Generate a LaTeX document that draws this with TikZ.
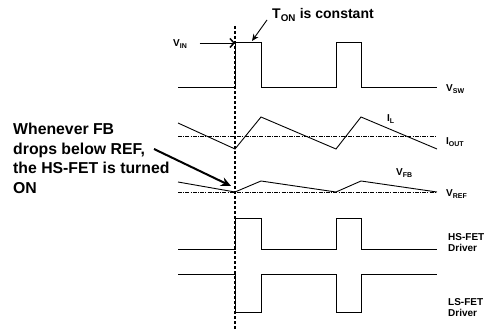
\documentclass[tikz,border=0pt]{standalone}
\usepackage{fontspec}
\setmainfont{Liberation Sans}
\usetikzlibrary{arrows.meta}
\begin{document}
\begin{tikzpicture}[x=1pt,y=-1pt,
  wave/.style={line width=0.9pt, line join=miter},
  refline/.style={line width=0.9pt, dash pattern=on 4pt off 1.2pt on 1pt off 1.2pt},
  marker/.style={line width=1.1pt, dash pattern=on 3pt off 2pt},
  lbl/.style={font=\bfseries\fontsize{10}{11}\selectfont, anchor=west, inner sep=0pt, align=left},
  note/.style={font=\bfseries\fontsize{15.8}{19.5}\selectfont, anchor=north west, inner sep=0pt, align=left},
  vinarr/.style={line width=0.9pt, -{Straight Barb[length=4pt,width=9pt,line width=1.5pt]}},
  tonarr/.style={line width=0.9pt, -{Stealth[length=7pt,width=6pt]}},
  fbarr/.style={line width=2pt, -{Stealth[length=10pt,width=9pt]}}
]
\useasboundingbox (0,0) rectangle (495,331);

% time marker
\coordinate (mtop) at (235,26);
\coordinate (mbot) at (235,331);
\draw[marker] (mtop) -- (mbot);

% V_SW
\draw[wave] (178,87) -- (235,87) -- (235,42) -- (261,42) -- (261,87) -- (336,87) -- (336,42) -- (361,42) -- (361,87) -- (437,87);
% I_L and I_OUT
\draw[refline] (178,136) -- (436,136);
\draw[wave] (178,123) -- (235,149) -- (261,117) -- (336,149) -- (361,117) -- (437,149);
% V_FB and V_REF
\draw[refline] (178,192) -- (436,192);
\draw[wave] (178,182) -- (235,192) -- (261,181) -- (336,192) -- (361,181) -- (437,192);
% HS-FET driver
\draw[wave] (178,249) -- (235,249) -- (235,218) -- (261,218) -- (261,249) -- (336,249) -- (336,218) -- (361,218) -- (361,249) -- (437,249);
% LS-FET driver
\draw[wave] (178,274) -- (235,274) -- (235,312) -- (261,312) -- (261,274) -- (336,274) -- (336,312) -- (361,312) -- (361,274) -- (437,274);

% labels
\node[lbl] (vsw) at (446,89) {V\textsubscript{SW}};
\node[lbl] (il) at (387,119) {I\textsubscript{L}};
\node[lbl] (iout) at (446,142) {I\textsubscript{OUT}};
\node[lbl] (vfb) at (396,173) {V\textsubscript{FB}};
\node[lbl] (vref) at (446,194) {V\textsubscript{REF}};
\node[lbl] (hs) at (448,243) {HS-FET\\Driver};
\node[lbl] (ls) at (448,308) {LS-FET\\Driver};

% V_IN
\node[lbl] (vin) at (173,44) {V\textsubscript{IN}};
\coordinate (vintip) at (235,43);
\draw[vinarr] ([xshift=12pt]vin.east |- vintip) -- (vintip);

% T_ON
\node[lbl, font=\bfseries\fontsize{14}{15}\selectfont] (ton) at (272,15) {T\textsubscript{ON} is constant};
\coordinate (tontip) at (252,41);
\draw[tonarr] ([shift={(-5pt,-5pt)}]ton.west) -- (tontip);

% note
\node[note] (fbnote) at (13,123) {Whenever FB\\drops below REF,\\the HS-FET is turned\\ON};
\coordinate (fbstart) at (154,149);
\coordinate (fbtip) at (231,186);
\draw[fbarr] (fbstart) -- (fbtip);
\end{tikzpicture}
\end{document}
